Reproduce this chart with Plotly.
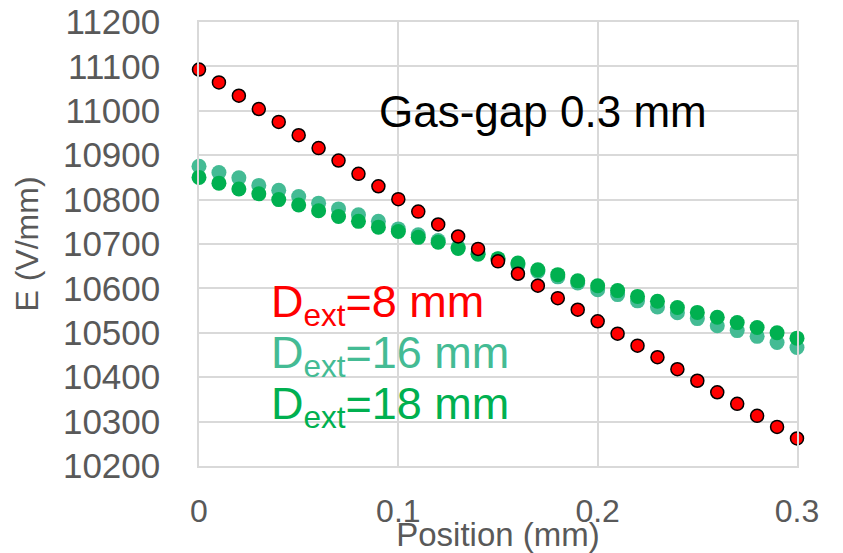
import plotly.graph_objects as go

position_mm = [round(i * 0.01, 2) for i in range(31)]

e_dext_8 = [11093, 11064, 11034, 11004, 10975, 10945, 10916, 10888, 10858, 10830,
            10801, 10773, 10744, 10717, 10689, 10661, 10633, 10606, 10578, 10552,
            10526, 10498, 10471, 10445, 10418, 10392, 10366, 10340, 10313, 10288,
            10262]

e_dext_16 = [10875, 10861, 10849, 10832, 10821, 10807, 10792, 10779, 10766, 10751,
             10734, 10721, 10708, 10693, 10680, 10666, 10653, 10638, 10626, 10612,
             10597, 10586, 10572, 10558, 10545, 10532, 10516, 10505, 10492, 10478,
             10467]

e_dext_18 = [10850, 10837, 10824, 10813, 10800, 10788, 10775, 10762, 10751, 10738,
             10728, 10715, 10704, 10690, 10677, 10667, 10657, 10642, 10631, 10617,
             10606, 10595, 10582, 10571, 10557, 10546, 10535, 10523, 10512, 10500,
             10488]

x_ticks = [0, 0.1, 0.2, 0.3]
x_tick_labels = ["0", "0.1", "0.2", "0.3"]
y_ticks = list(range(10200, 11201, 100))
y_tick_labels = [str(v) for v in y_ticks]

RED = "#FF0000"
TEAL = "#44BB94"
GREEN = "#00B050"
GREY = "#595959"
GRID = "#D9D9D9"
FONT = "Liberation Sans, Arial, sans-serif"

fig = go.Figure()
fig.add_trace(go.Scatter(x=position_mm, y=e_dext_16, mode="markers",
                         marker=dict(size=15, color=TEAL), cliponaxis=False,
                         name="Dext=16 mm"))
fig.add_trace(go.Scatter(x=position_mm, y=e_dext_18, mode="markers",
                         marker=dict(size=15, color=GREEN), cliponaxis=False,
                         name="Dext=18 mm"))
fig.add_trace(go.Scatter(x=position_mm, y=e_dext_8, mode="markers",
                         marker=dict(size=13, color=RED, line=dict(color="black", width=1.5)),
                         cliponaxis=False, name="Dext=8 mm"))

fig.add_annotation(x=0.1724, y=10998, xref="x", yref="y", text="Gas-gap 0.3 mm",
                   showarrow=False, xanchor="center", yanchor="middle",
                   font=dict(family=FONT, size=44, color="black"))
fig.add_annotation(x=0.035, y=10564, xref="x", yref="y", text="D<sub>ext</sub>=8 mm",
                   showarrow=False, xanchor="left", yanchor="middle",
                   font=dict(family=FONT, size=45, color=RED))
fig.add_annotation(x=0.035, y=10448, xref="x", yref="y", text="D<sub>ext</sub>=16 mm",
                   showarrow=False, xanchor="left", yanchor="middle",
                   font=dict(family=FONT, size=45, color=TEAL))
fig.add_annotation(x=0.035, y=10335, xref="x", yref="y", text="D<sub>ext</sub>=18 mm",
                   showarrow=False, xanchor="left", yanchor="middle",
                   font=dict(family=FONT, size=45, color=GREEN))

fig.update_layout(
    width=835, height=545,
    margin=dict(l=191, r=46, t=14, b=87),
    paper_bgcolor="white", plot_bgcolor="white",
    showlegend=False,
    font=dict(family=FONT, color=GREY),
)
fig.update_xaxes(range=[0, 0.3], tickvals=x_ticks, ticktext=x_tick_labels,
                 automargin=False, ticklabeloverflow="allow",
                 showgrid=True, gridcolor=GRID, gridwidth=1.5,
                 showline=True, mirror=True, linecolor=GRID, linewidth=1.5,
                 zeroline=False, ticks="",
                 tickfont=dict(family=FONT, size=32, color=GREY),
                 ticklabelstandoff=16,
                 title=dict(text="Position (mm)", font=dict(family=FONT, size=33, color=GREY),
                            standoff=8))
fig.update_yaxes(range=[10200, 11200], tickvals=y_ticks, ticktext=y_tick_labels,
                 automargin=False, ticklabeloverflow="allow",
                 showgrid=True, gridcolor=GRID, gridwidth=1.5,
                 showline=True, mirror=True, linecolor=GRID, linewidth=1.5,
                 zeroline=False, ticks="",
                 tickfont=dict(family=FONT, size=35, color=GREY),
                 ticklabelstandoff=30,
                 title=dict(text="E (V/mm)", font=dict(family=FONT, size=32, color=GREY),
                            standoff=15))

fig.write_html("out.html")
